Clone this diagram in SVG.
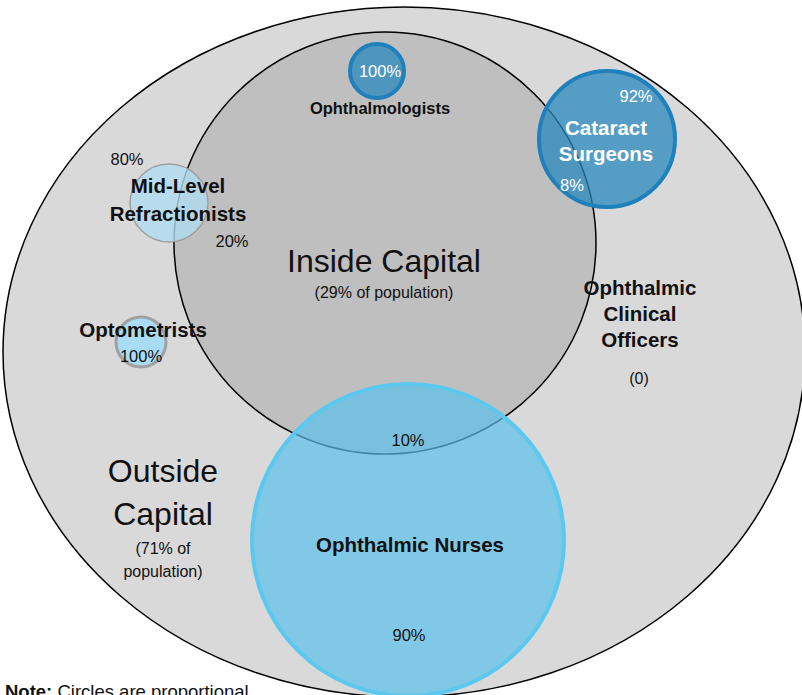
<svg xmlns="http://www.w3.org/2000/svg" width="802" height="695" viewBox="0 0 802 695">
<style>
text{font-family:"Liberation Sans",Arial,sans-serif;text-anchor:middle;fill:#111}
.b{font-weight:bold}
.w{fill:#fff}
.pct{font-size:16.5px}
.lbl{font-size:20.5px;font-weight:bold}
.big{font-size:32px}
.sm{font-size:16px}
</style>
<rect width="802" height="695" fill="#fff"/>
<g id="outside-capital">
<ellipse cx="404" cy="352" rx="401" ry="345" fill="#d9d9d9" stroke="#000" stroke-width="1.5"/>
</g>
<g id="inside-capital">
<circle cx="385" cy="243" r="211" fill="#bfbfbf" stroke="#000" stroke-width="1.5"/>
</g>
<g id="ophthalmologists">
<circle cx="377" cy="71" r="27" fill="#2a88bd" fill-opacity="0.75" stroke="#1f80bb" stroke-width="4"/>
<text x="380" y="77" class="pct w">100%</text>
<text x="380" y="114" class="b" font-size="16.5">Ophthalmologists</text>
</g>
<g id="cataract-surgeons">
<circle cx="607" cy="139" r="68" fill="#2a88bd" fill-opacity="0.75" stroke="#1f80bb" stroke-width="4"/>
<text x="636" y="102" class="pct w">92%</text>
<text x="606" y="135" class="lbl w" font-size="23">Cataract</text>
<text x="606" y="161" class="lbl w" font-size="23">Surgeons</text>
<text x="572" y="191" class="pct w">8%</text>
</g>
<g id="mid-level-refractionists">
<circle cx="169" cy="203" r="39" fill="#b0dcf0" fill-opacity="0.8" stroke="#a0a0a0" stroke-width="1.5"/>
<text x="127" y="165" class="pct">80%</text>
<text x="178" y="193" class="lbl">Mid-Level</text>
<text x="178" y="221" class="lbl">Refractionists</text>
<text x="232" y="247" class="pct">20%</text>
</g>
<g id="optometrists">
<circle cx="141" cy="342" r="25" fill="#a8dcf5" stroke="#a0a0a0" stroke-width="3"/>
<text x="143" y="337" class="lbl">Optometrists</text>
<text x="141" y="362" class="pct">100%</text>
</g>
<g id="ophthalmic-nurses">
<circle cx="408" cy="540" r="156" fill="#5bc0eb" fill-opacity="0.7" stroke="#5bc8f0" stroke-width="4"/>
<text x="408" y="446" class="pct">10%</text>
<text x="410" y="552" class="lbl">Ophthalmic Nurses</text>
<text x="409" y="641" class="pct">90%</text>
</g>
<g id="ophthalmic-clinical-officers">
<text x="640" y="295" class="lbl">Ophthalmic</text>
<text x="640" y="321" class="lbl">Clinical</text>
<text x="640" y="347" class="lbl">Officers</text>
<text x="639" y="384" class="sm">(0)</text>
</g>
<g id="labels">
<text x="384" y="272" class="big">Inside Capital</text>
<text x="384" y="298" class="sm">(29% of population)</text>
<text x="163" y="482" class="big">Outside</text>
<text x="163" y="525" class="big">Capital</text>
<text x="163" y="554" class="sm">(71% of</text>
<text x="163" y="577" class="sm">population)</text>
<text x="5" y="698" font-size="18.5" style="text-anchor:start"><tspan font-weight="bold">Note:</tspan> Circles are proportional</text>
</g>
<g id="connectors"></g>
</svg>
